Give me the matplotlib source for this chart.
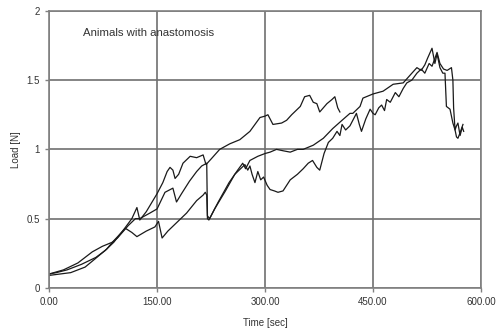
import matplotlib
matplotlib.use("Agg")
import matplotlib.pyplot as plt

plt.rcParams['font.family'] = ['Liberation Sans', 'DejaVu Sans']

# animal 1 (upper curve, stops near 400 s)
t1 = [0, 10, 25, 45, 65, 78, 90, 105, 115, 122, 126, 135, 150, 158, 164, 168, 172,
      175, 180, 186, 196, 205, 214, 218, 225, 237, 251, 265, 279, 293, 300, 304, 311,
      323, 330, 337, 349, 355, 362, 367, 372, 376, 386, 393, 397, 401, 404]
load1 = [0.10, 0.11, 0.13, 0.17, 0.22, 0.27, 0.33, 0.43, 0.50, 0.58, 0.49, 0.55, 0.68,
         0.76, 0.84, 0.87, 0.85, 0.79, 0.82, 0.90, 0.95, 0.94, 0.96, 0.89, 0.93, 1.00,
         1.04, 1.07, 1.13, 1.23, 1.24, 1.25, 1.18, 1.19, 1.21, 1.25, 1.31, 1.38, 1.39,
         1.34, 1.33, 1.27, 1.33, 1.36, 1.38, 1.30, 1.27]

# animal 2 (middle curve)
t2 = [0, 20, 40, 60, 74, 88, 95, 110, 120, 126, 140, 150, 161, 172, 177, 184, 195,
      205, 212, 219, 220, 223, 235, 250, 262, 269, 273, 279, 290, 300, 307, 316, 325,
      335, 345, 353, 367, 381, 394, 407, 418, 422, 432, 436, 450, 464, 478, 492, 504,
      511, 517, 522, 526, 532, 536, 539, 543, 547, 550, 552, 557, 561, 564, 566, 568,
      571, 575]
load2 = [0.10, 0.13, 0.18, 0.26, 0.30, 0.33, 0.36, 0.45, 0.50, 0.50, 0.54, 0.57, 0.69,
         0.72, 0.62, 0.68, 0.77, 0.84, 0.88, 0.90, 0.52, 0.50, 0.62, 0.76, 0.85, 0.90,
         0.86, 0.92, 0.95, 0.97, 0.98, 1.00, 0.99, 0.98, 1.00, 1.00, 1.03, 1.08, 1.15,
         1.21, 1.26, 1.26, 1.31, 1.37, 1.40, 1.42, 1.47, 1.48, 1.55, 1.59, 1.57, 1.61,
         1.66, 1.73, 1.62, 1.69, 1.59, 1.55, 1.55, 1.31, 1.29, 1.19, 1.14, 1.09, 1.08,
         1.12, 1.18]

# animal 3 (lower curve)
t3 = [0, 15, 30, 50, 64, 80, 88, 106, 115, 122, 135, 147, 152, 157, 165, 177, 191,
      205, 214, 217, 219, 220, 222, 230, 245, 258, 268, 272, 276, 279, 282, 286, 290,
      294, 298, 303, 307, 313, 318, 325, 335, 345, 353, 360, 366, 372, 376, 382, 388,
      394, 400, 404, 407, 412, 418, 423, 427, 431, 434, 440, 446, 450, 453, 458, 462,
      466, 469, 474, 481, 486, 492, 497, 504, 511, 517, 522, 528, 532, 539, 543, 548,
      553, 559, 561, 562, 564, 566, 568, 571, 574, 576]
load3 = [0.09, 0.10, 0.11, 0.15, 0.21, 0.28, 0.33, 0.43, 0.40, 0.37, 0.41, 0.44, 0.48,
         0.36, 0.41, 0.47, 0.54, 0.63, 0.67, 0.69, 0.67, 0.50, 0.49, 0.57, 0.70, 0.82,
         0.87, 0.89, 0.85, 0.88, 0.82, 0.76, 0.84, 0.78, 0.80, 0.74, 0.71, 0.70, 0.69,
         0.70, 0.78, 0.82, 0.86, 0.90, 0.92, 0.87, 0.85, 0.97, 1.05, 1.08, 1.13, 1.10,
         1.18, 1.14, 1.17, 1.22, 1.26, 1.18, 1.13, 1.22, 1.29, 1.26, 1.25, 1.30, 1.32,
         1.28, 1.36, 1.34, 1.41, 1.38, 1.44, 1.48, 1.50, 1.55, 1.58, 1.55, 1.62, 1.60,
         1.70, 1.62, 1.58, 1.57, 1.59, 1.50, 1.30, 1.14, 1.17, 1.19, 1.10, 1.16, 1.13]

x_ticks = [0, 150, 300, 450, 600]
x_labels = ['0.00', '150.00', '300.00', '450.00', '600.00']
y_ticks = [0, 0.5, 1, 1.5, 2]
y_labels = ['0', '0.5', '1', '1.5', '2']

fig = plt.figure(figsize=(5.01, 3.29), dpi=100)
ax = fig.add_axes([0.098, 0.125, 0.862, 0.842])

for t, load in [(t1, load1), (t2, load2), (t3, load3)]:
    ax.plot(t, load, color='#1a1a1a', lw=0.9)

ax.set_xlim(0, 600)
ax.set_ylim(0, 2)
ax.set_xticks(x_ticks)
ax.set_xticklabels(x_labels)
ax.set_yticks(y_ticks)
ax.set_yticklabels(y_labels)
ax.grid(True, color='#707070', lw=1.2)
ax.set_axisbelow(True)
for s in ax.spines.values():
    s.set_color('#808080')
    s.set_linewidth(1.2)
ax.tick_params(colors='#808080', labelcolor='#333333', labelsize=7, length=3, width=1)

ax.set_xlabel('Time [sec]', fontsize=7, color='#333333', labelpad=8)
ax.set_ylabel('Load [N]', fontsize=7, color='#333333', labelpad=4)
ax.text(47, 1.82, 'Animals with anastomosis', fontsize=8.2, color='#333333')

fig.savefig('out.png', dpi=100)
